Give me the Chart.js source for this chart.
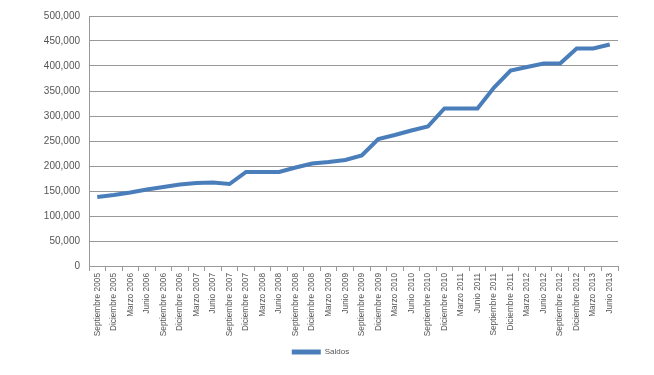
<!DOCTYPE html>
<html>
<head>
<meta charset="utf-8">
<script src="https://cdn.jsdelivr.net/npm/chart.js@4"></script>
<style>
  html, body { margin: 0; padding: 0; background: #fff; }
</style>
</head>
<body>
<canvas id="saldosChart" width="654" height="375"></canvas>
<script>
// Trimestres (etiquetas del eje X)
const trimestres = [
    'Septiembre 2005', 'Diciembre 2005', 'Marzo 2006', 'Junio 2006',
    'Septiembre 2006', 'Diciembre 2006', 'Marzo 2007', 'Junio 2007',
    'Septiembre 2007', 'Diciembre 2007', 'Marzo 2008', 'Junio 2008',
    'Septiembre 2008', 'Diciembre 2008', 'Marzo 2009', 'Junio 2009',
    'Septiembre 2009', 'Diciembre 2009', 'Marzo 2010', 'Junio 2010',
    'Septiembre 2010', 'Diciembre 2010', 'Marzo 2011', 'Junio 2011',
    'Septiembre 2011', 'Diciembre 2011', 'Marzo 2012', 'Junio 2012',
    'Septiembre 2012', 'Diciembre 2012', 'Marzo 2013', 'Junio 2013'
];

// Saldos por trimestre
const saldos = [
    138000, 142000, 147000, 153000, 158000, 163000, 166000, 167000,
    164000, 188000, 188000, 188000, 197000, 205000, 208000, 212000,
    221000, 254000, 262000, 271000, 279000, 315000, 315000, 315000,
    357000, 391000, 398000, 405000, 405000, 435000, 435000, 443000
];

// Marcas del eje Y
const ejeY = { min: 0, max: 500000, paso: 50000 };

const azul = '#4a7ebb';
const gris = '#555555';
const rejilla = '#999999';

document.addEventListener('DOMContentLoaded', function () {
    const ctx = document.getElementById('saldosChart').getContext('2d');
    new Chart(ctx, {
        type: 'line',
        data: {
            labels: trimestres,
            datasets: [{
                label: 'Saldos',
                data: saldos,
                borderColor: azul,
                backgroundColor: azul,
                borderWidth: 4,
                pointRadius: 0,
                tension: 0,
                fill: false
            }]
        },
        options: {
            responsive: false,
            animation: false,
            layout: { padding: { left: 23, right: 36, top: 16, bottom: 9 } },
            plugins: {
                legend: {
                    position: 'bottom',
                    labels: {
                        boxWidth: 29,
                        boxHeight: 5,
                        color: gris,
                        font: { family: 'Liberation Sans, Arial', size: 8 },
                        padding: 10,
                        generateLabels: function (chart) {
                            // muestra de línea plana, sin borde grueso
                            const items = Chart.defaults.plugins.legend.labels.generateLabels(chart);
                            items.forEach(function (it) { it.lineWidth = 0; });
                            return items;
                        }
                    }
                },
                tooltip: { enabled: false }
            },
            scales: {
                x: {
                    offset: true,
                    grid: {
                        offset: true,
                        drawOnChartArea: false,
                        color: rejilla,
                        tickLength: 5
                    },
                    border: { color: rejilla },
                    ticks: {
                        autoSkip: false,
                        minRotation: 90,
                        maxRotation: 90,
                        color: gris,
                        padding: 2,
                        font: { family: 'Liberation Sans, Arial', size: 8.3 }
                    },
                    afterFit: function (scale) { scale.height = 72; }
                },
                y: {
                    min: ejeY.min,
                    max: ejeY.max,
                    grid: {
                        color: rejilla,
                        drawTicks: false
                    },
                    border: { color: rejilla },
                    ticks: {
                        stepSize: ejeY.paso,
                        color: gris,
                        padding: 9,
                        font: { family: 'Liberation Sans, Arial', size: 10 },
                        callback: function (v) { return v.toLocaleString('en-US'); }
                    },
                    afterFit: function (scale) { scale.width = 66; }
                }
            }
        }
    });
});
</script>
</body>
</html>
